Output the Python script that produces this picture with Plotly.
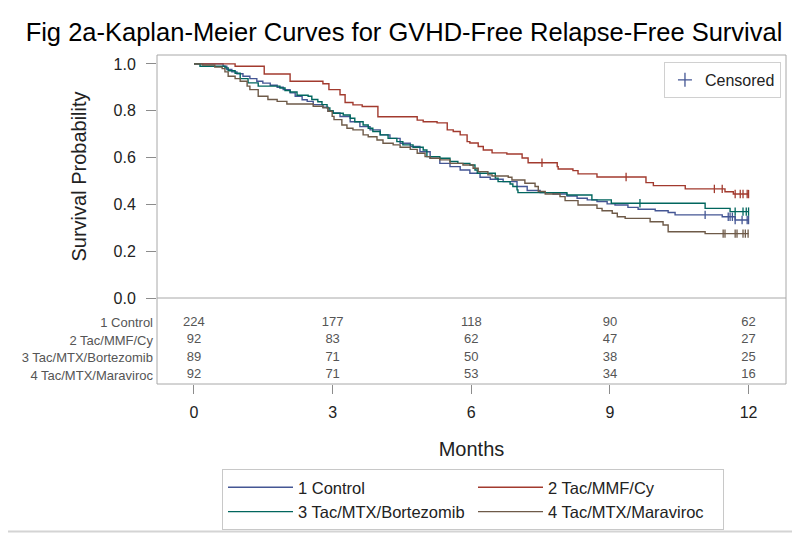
import plotly.graph_objects as go

# ---------------- data ----------------
group_names = ["1 Control", "2 Tac/MMF/Cy", "3 Tac/MTX/Bortezomib", "4 Tac/MTX/Maraviroc"]
group_colors = ["#445694", "#A23A2E", "#01665E", "#6E5A48"]

# 1 Control
ctrl_t = [0, 0.63, 0.71, 0.82, 0.93, 1.06, 1.21, 1.36, 1.49, 1.65, 1.80, 1.93, 2.08, 2.19, 2.34,
          2.45, 2.58, 2.79, 2.90, 3.01, 3.16, 3.38, 3.59, 3.81, 4.03, 4.24, 4.46, 4.68, 4.89,
          5.11, 5.32, 5.54, 5.76, 5.97, 6.19, 6.41, 6.69, 6.99, 7.21, 7.49, 7.77, 8.07, 8.29,
          8.51, 8.72, 8.94, 9.11, 9.39, 9.61, 9.98, 10.26, 10.41, 11.43, 11.71, 12.0]
ctrl_s = [1.0, 0.99, 0.976, 0.966, 0.958, 0.947, 0.937, 0.926, 0.918, 0.909, 0.90, 0.89, 0.876,
          0.862, 0.847, 0.84, 0.826, 0.815, 0.798, 0.79, 0.775, 0.753, 0.732, 0.718, 0.697,
          0.682, 0.661, 0.647, 0.625, 0.597, 0.575, 0.561, 0.547, 0.533, 0.516, 0.507, 0.497,
          0.476, 0.459, 0.45, 0.444, 0.436, 0.426, 0.419, 0.412, 0.402, 0.397, 0.387, 0.379,
          0.373, 0.365, 0.355, 0.347, 0.333, 0.333]
ctrl_cens = [11.06, 11.56, 11.60, 11.65, 11.71, 11.86, 11.97, 12.0]

# 2 Tac/MMF/Cy
mmf_t = [0, 0.89, 1.52, 2.08, 2.79, 2.92, 3.16, 3.27, 3.44, 3.64, 3.98, 4.83, 4.96, 5.26, 5.48,
         5.61, 5.76, 5.91, 5.97, 6.15, 6.26, 6.45, 6.77, 7.10, 7.23, 7.86, 7.88, 8.20, 8.31,
         8.72, 9.78, 9.94, 10.63, 11.49, 11.67, 12.0]
mmf_s = [1.0, 0.99, 0.957, 0.926, 0.915, 0.89, 0.868, 0.835, 0.825, 0.818, 0.774, 0.76, 0.753,
         0.748, 0.718, 0.711, 0.697, 0.668, 0.662, 0.647, 0.632, 0.62, 0.615, 0.598, 0.578,
         0.561, 0.551, 0.544, 0.53, 0.517, 0.493, 0.48, 0.466, 0.454, 0.444, 0.444]
mmf_cens = [7.53, 9.35, 11.26, 11.43, 11.71, 11.82, 11.88, 11.97, 12.0]

# 3 Tac/MTX/Bortezomib
bort_t = [0, 0.13, 0.67, 0.74, 0.89, 1.00, 1.17, 1.39, 1.86, 1.97, 2.08, 2.23, 2.47, 2.55, 2.68,
          2.77, 2.88, 2.94, 3.01, 3.23, 3.38, 3.48, 3.66, 3.77, 3.87, 4.03, 4.20, 4.39, 4.52,
          4.74, 4.96, 5.04, 5.32, 5.54, 5.71, 5.97, 6.08, 6.13, 6.52, 6.58, 6.84, 6.90, 6.99,
          7.01, 8.07, 8.61, 9.03, 11.06, 11.60, 12.0]
bort_s = [1.0, 0.99, 0.983, 0.971, 0.96, 0.937, 0.919, 0.905, 0.897, 0.886, 0.88, 0.866, 0.862,
          0.848, 0.838, 0.826, 0.812, 0.80, 0.789, 0.782, 0.768, 0.753, 0.739, 0.725, 0.711,
          0.697, 0.682, 0.668, 0.654, 0.644, 0.632, 0.604, 0.597, 0.583, 0.575, 0.568, 0.547,
          0.533, 0.512, 0.497, 0.487, 0.476, 0.462, 0.45, 0.44, 0.419, 0.405, 0.383, 0.369, 0.369]
bort_cens = [9.65, 11.71, 11.88, 11.95, 12.0]

# 4 Tac/MTX/Maraviroc
mara_t = [0, 0.19, 0.45, 0.61, 0.67, 0.74, 0.89, 1.00, 1.15, 1.21, 1.39, 1.60, 1.80, 2.01, 2.58,
          2.79, 2.90, 2.99, 3.03, 3.20, 3.31, 3.44, 3.66, 3.77, 3.96, 4.09, 4.31, 4.46, 4.68,
          4.83, 5.00, 5.11, 5.32, 5.54, 5.82, 6.04, 6.15, 6.36, 6.45, 6.80, 6.88, 7.16, 7.38,
          7.45, 7.60, 7.92, 8.03, 8.31, 8.72, 8.83, 9.05, 9.16, 9.33, 9.87, 10.15, 10.26, 11.06,
          12.0]
mara_s = [1.0, 0.995, 0.986, 0.98, 0.966, 0.947, 0.937, 0.926, 0.905, 0.89, 0.862, 0.848, 0.84,
          0.829, 0.819, 0.812, 0.798, 0.776, 0.762, 0.739, 0.725, 0.718, 0.697, 0.689, 0.675,
          0.661, 0.654, 0.644, 0.635, 0.618, 0.604, 0.597, 0.59, 0.575, 0.568, 0.554, 0.54,
          0.526, 0.521, 0.516, 0.504, 0.49, 0.476, 0.455, 0.444, 0.433, 0.416, 0.397, 0.383,
          0.373, 0.362, 0.347, 0.34, 0.326, 0.312, 0.283, 0.275, 0.275]
mara_cens = [11.45, 11.49, 11.71, 11.75, 11.88, 11.93, 11.99]

# at-risk table
risk_times = [0, 3, 6, 9, 12]
risk_ctrl = [224, 177, 118, 90, 62]
risk_mmf = [92, 83, 62, 47, 27]
risk_bort = [89, 71, 50, 38, 25]
risk_mara = [92, 71, 53, 34, 16]

y_ticks = [0.0, 0.2, 0.4, 0.6, 0.8, 1.0]
x_ticks = [0, 3, 6, 9, 12]

# ---------------- figure ----------------
FONT = "Arial, Liberation Sans, sans-serif"
fig = go.Figure()

series = [(ctrl_t, ctrl_s, ctrl_cens), (mmf_t, mmf_s, mmf_cens),
          (bort_t, bort_s, bort_cens), (mara_t, mara_s, mara_cens)]


def surv_at(ts, ss, t):
    val = ss[0]
    for ti, si in zip(ts, ss):
        if ti <= t:
            val = si
    return val


for name, col, (ts, ss, cens) in zip(group_names, group_colors, series):
    fig.add_trace(go.Scatter(x=ts, y=ss, mode="lines", line=dict(color=col, width=1.4, shape="hv"),
                             name=name, legend="legend", hoverinfo="skip"))
for name, col, (ts, ss, cens) in zip(group_names, group_colors, series):
    fig.add_trace(go.Scatter(x=cens, y=[surv_at(ts, ss, c) for c in cens], mode="markers",
                             marker=dict(symbol="line-ns-open", size=6, color=col,
                                         line=dict(color=col, width=1.3)),
                             showlegend=False, hoverinfo="skip"))

# censored legend entry
fig.add_trace(go.Scatter(x=[None], y=[None], mode="markers", name="Censored", legend="legend2",
                         marker=dict(symbol="cross-thin-open", size=10, color="#445694",
                                     line=dict(color="#445694", width=1.3))))

# at-risk table
risk_rows = [risk_ctrl, risk_mmf, risk_bort, risk_mara]
row_pos = [3, 2, 1, 0]
for rp, vals in zip(row_pos, risk_rows):
    fig.add_trace(go.Scatter(x=risk_times, y=[rp] * len(risk_times), xaxis="x", yaxis="y2",
                             mode="text", text=[str(v) for v in vals],
                             textfont=dict(family=FONT, size=13, color="#555555"),
                             showlegend=False, hoverinfo="skip"))

# the page places the figure 8px from its top-left corner, so the figure is 792x525
W, H = 792, 525
L, T, R, B = 149, 47, 14, 149
PW, PH = W - L - R, H - T - B
split = 86 / PH
fig.update_layout(
    width=W, height=H,
    margin=dict(l=L, r=R, t=T, b=B, autoexpand=False),
    paper_bgcolor="white", plot_bgcolor="white",
    font=dict(family=FONT, color="#222222"),
    title=dict(text="Fig 2a-Kaplan-Meier Curves for GVHD-Free Relapse-Free Survival",
               x=0.5, xref="container", xanchor="center", y=1 - 24 / H, yref="container",
               yanchor="middle", font=dict(family=FONT, size=25.5, color="#000000")),
    xaxis=dict(range=[-0.80, 12.81], anchor="y2", tickvals=x_ticks, ticks="outside", ticklen=9,
               tickcolor="#8c8c8c", showgrid=False, zeroline=False, showline=False,
               automargin=False, ticklabelstandoff=5, tickfont=dict(size=16, color="#222222"),
               title=dict(text="Months", font=dict(size=20, color="#222222"), standoff=21)),
    yaxis=dict(domain=[split, 1], range=[0, 1.038], tickvals=y_ticks, tickformat=".1f",
               ticks="outside", ticklen=10, tickcolor="#8c8c8c", showgrid=False,
               zeroline=False, showline=False, automargin=False, ticklabelstandoff=7,
               tickfont=dict(size=16, color="#222222"),
               title=dict(text="Survival Probability", font=dict(size=20, color="#222222"),
                          standoff=21)),
    yaxis2=dict(domain=[0, split], range=[-0.514, 4.4], tickvals=row_pos,
                ticktext=group_names, ticks="", showgrid=False, zeroline=False,
                showline=False, automargin=False, ticklabelstandoff=3,
                tickfont=dict(size=13, color="#555555")),
    legend=dict(orientation="h", x=(222 - 8 - L) / PW, xanchor="left",
                y=-(469 - 8 - (T + PH)) / PH, yanchor="top",
                itemwidth=65, entrywidth=170, bordercolor="#c8c8c8", borderwidth=1,
                font=dict(size=16.5, color="#222222"), bgcolor="white"),
    legend2=dict(x=0.992, xanchor="right", y=0.979, yanchor="top", bordercolor="#d0d0d0",
                 borderwidth=1, font=dict(size=16, color="#222222"), bgcolor="white"),
    shapes=[
        dict(type="rect", xref="paper", yref="paper", x0=0, x1=1, y0=0, y1=1,
             line=dict(color="#a8a8a8", width=1)),
        dict(type="line", xref="paper", yref="paper", x0=0, x1=1, y0=split, y1=split,
             line=dict(color="#a8a8a8", width=1)),
        dict(type="line", xref="paper", yref="paper", x0=(W - 1.5 - L) / PW, x1=(W - 1.5 - L) / PW,
             y0=-(B - 1) / PH, y1=(T + PH) / PH, line=dict(color="#d4d4d4", width=2)),
        dict(type="line", xref="paper", yref="paper", x0=-L / PW, x1=(W - L) / PW,
             y0=-(B - 1.5) / PH, y1=-(B - 1.5) / PH, line=dict(color="#d4d4d4", width=2)),
    ],
)

fig.write_html("out.html")
